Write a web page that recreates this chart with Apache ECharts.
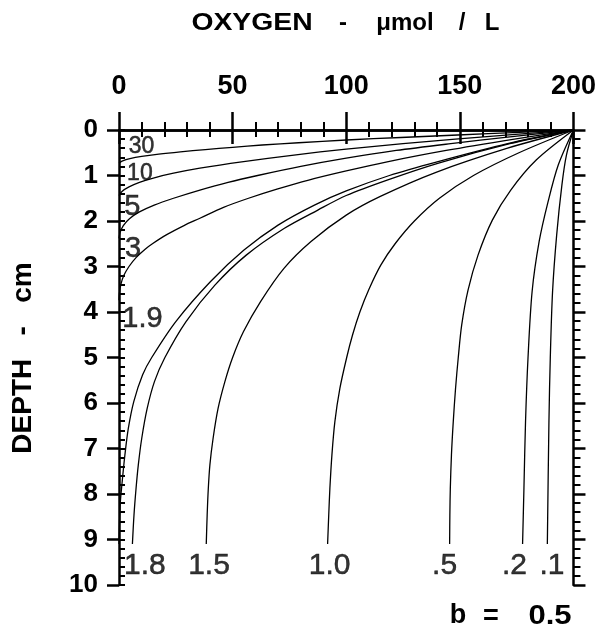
<!DOCTYPE html>
<html>
<head>
<meta charset="utf-8">
<script src="https://cdn.jsdelivr.net/npm/echarts@6/dist/echarts.min.js"></script>
<style>
  html, body { margin: 0; padding: 0; background: #fff; }
  #chart { width: 599px; height: 633px; }
</style>
</head>
<body>
<div id="chart"></div>
<script>
// Oxygen profiles: each point is [oxygen µmol/L, depth cm]
const p30 = [[200,0],[176,0.05],[149,0.11],[124,0.165],[100,0.22],[79,0.28],[63,0.33],[50,0.38],[38,0.43],[27,0.48],[17.5,0.53],[10,0.58],[4.8,0.63],[1.6,0.68],[0,0.73]];
const p10 = [[200,0],[173,0.1],[148,0.2],[125,0.3],[100,0.42],[77,0.55],[54,0.7],[35.6,0.84],[24,0.95],[15.5,1.05],[9,1.15],[4.4,1.25],[1.3,1.35],[0,1.44]];
const p5  = [[200,0],[172,0.15],[146,0.3],[122,0.45],[100,0.62],[80,0.8],[61,1.0],[48,1.15],[35.6,1.32],[24,1.5],[15.5,1.65],[9,1.8],[4.6,1.95],[1.9,2.1],[0.5,2.25],[0,2.38]];
const p3  = [[200,0],[174,0.2],[144,0.45],[118,0.7],[100,0.9],[83.5,1.1],[69.5,1.3],[57,1.5],[46,1.7],[35.6,1.94],[28.6,2.1],[21,2.3],[14.7,2.5],[11.5,2.62],[7.6,2.8],[4.4,3.0],[2.1,3.2],[0.8,3.4],[0.15,3.6],[0,3.74]];
const p19 = [[200,0],[171,0.3],[140,0.7],[119,1.0],[100,1.34],[86,1.65],[70,2.09],[55,2.64],[40.3,3.33],[25,4.21],[14.4,5.0],[10.4,5.38],[6.5,5.97],[4.1,6.56],[2.6,7.14],[1.4,7.73],[0.5,8.24],[0,9.1]];
const p18 = [[200,0],[172,0.3],[141,0.72],[118,1.1],[100,1.44],[87.5,1.76],[72.8,2.16],[56,2.75],[42.2,3.41],[29.5,4.21],[20.2,5.0],[15.6,5.53],[12.4,6.12],[10,6.78],[8.5,7.36],[7.5,7.88],[6.6,8.46],[5.9,9.1]];
const p15 = [[200,0],[171,0.4],[139.5,0.93],[115,1.46],[100,1.87],[84.5,2.45],[72.6,3.04],[62.3,3.77],[54.8,4.43],[50,5.0],[46.6,5.53],[43.6,6.12],[41.4,6.78],[40,7.36],[39.3,7.88],[38.8,8.46],[38.4,9.1]];
const p1  = [[200,0],[176,0.5],[156,1.0],[141,1.5],[130,2.0],[121.5,2.5],[115.2,2.97],[110,3.5],[106,4.0],[102.8,4.5],[100.2,5.0],[97.2,5.68],[95,6.41],[93.7,7.14],[92.8,7.88],[92.3,8.46],[91.8,9.1]];
const p05 = [[200,0],[183.6,0.66],[172.4,1.32],[164.3,1.98],[158,2.75],[153.6,3.52],[150.8,4.29],[149.3,5.0],[148.1,5.68],[147.1,6.41],[146.3,7.14],[145.8,7.88],[145.6,8.46],[145.5,9.1]];
const p02 = [[200,0],[193.3,0.77],[188.8,1.58],[184.9,2.45],[181.8,3.55],[180,5.0],[178.9,6.41],[178.2,7.88],[177.6,9.1]];
const p01 = [[200,0],[196.9,0.55],[194.9,1.21],[192.6,2.31],[190.8,3.55],[189.8,5.0],[189.2,6.41],[188.5,9.1]];

const profiles = [p30, p10, p5, p3, p19, p18, p15, p1, p05, p02, p01];
const curveTags = ['30', '10', '5', '3', '1.9', '1.8', '1.5', '1.0', '.5', '.2', '.1'];
// where each curve tag sits, in [oxygen, depth]
const tagAnchors = [[9.9,0.37],[9.2,0.95],[5.9,1.69],[6.2,2.62],[10.3,4.15],[11.4,9.58],[39.6,9.58],[92.7,9.58],[143.3,9.58],[174,9.58],[190.5,9.58]];

const xTicks = [0, 50, 100, 150, 200];
const depthTicks = [0, 1, 2, 3, 4, 5, 6, 7, 8, 9, 10];

const FONT = '"Liberation Sans", Arial, Helvetica, sans-serif';
const BLACK = '#000';
const AXW = 2.5;

const chart = echarts.init(document.getElementById('chart'), null, { renderer: 'canvas' });

function tagSize(i) {
  if (i < 2) return 23;
  if (i < 5) return 29;
  return 30;
}

const lineSeries = profiles.map((pts, i) => ({
  name: curveTags[i],
  type: 'line',
  xAxisIndex: 0,
  yAxisIndex: 0,
  data: pts,
  showSymbol: false,
  smooth: 0.3,
  lineStyle: { color: BLACK, width: 1.3 },
  silent: true,
  z: 3
}));

const tagSeries = {
  type: 'scatter',
  xAxisIndex: 0,
  yAxisIndex: 0,
  symbolSize: 0,
  silent: true,
  z: 4,
  data: tagAnchors.map((a, i) => ({
    value: [a[0], a[1]],
    name: curveTags[i],
    label: { fontSize: tagSize(i) }
  })),
  label: {
    show: true,
    position: 'inside',
    formatter: p => p.name,
    color: BLACK,
    fontFamily: FONT,
    fontWeight: 'normal',
    textBorderColor: BLACK,
    textBorderWidth: 0.5
  }
};

const axisLineStyle = { color: BLACK, width: AXW };

function textEl(x, y, text, size, weight, scaleX, rotation) {
  return {
    type: 'text', x: x, y: y, scaleX: scaleX || 1, rotation: rotation || 0,
    style: { text: text, font: weight + ' ' + size + 'px ' + FONT, fill: BLACK, align: 'center', verticalAlign: 'middle' }
  };
}

chart.setOption({
  animation: false,
  backgroundColor: '#fff',
  grid: { left: 119, right: 25, top: 130, bottom: 48, containLabel: false },
  xAxis: [
    {
      type: 'value', position: 'top', min: xTicks[0], max: xTicks[xTicks.length - 1], interval: 50,
      axisLine: { show: true, lineStyle: axisLineStyle },
      axisTick: { show: true, length: 18, lineStyle: { color: BLACK, width: AXW } },
      minorTick: { show: true, splitNumber: 5, length: 8, lineStyle: { color: BLACK, width: 2 } },
      axisLabel: { show: true, margin: 30, fontSize: 27, fontWeight: 'bold', color: BLACK, fontFamily: FONT },
      splitLine: { show: false }
    },
    {
      type: 'value', position: 'bottom', min: 0, max: 200, interval: 50,
      axisLine: { show: true, lineStyle: axisLineStyle },
      axisTick: { show: true, length: 14, lineStyle: { color: BLACK, width: AXW } },
      minorTick: { show: true, splitNumber: 5, length: 7, lineStyle: { color: BLACK, width: 2 } },
      axisLabel: { show: false },
      splitLine: { show: false }
    }
  ],
  yAxis: [
    {
      type: 'value', position: 'left', inverse: true, min: depthTicks[0], max: depthTicks[depthTicks.length - 1], interval: 1,
      axisLine: { show: true, lineStyle: axisLineStyle },
      axisTick: { show: true, length: 12, lineStyle: { color: BLACK, width: AXW } },
      axisLabel: { show: true, margin: 21, fontSize: 26, fontWeight: 'bold', color: BLACK, fontFamily: FONT },
      splitLine: { show: false }
    },
    {
      type: 'value', position: 'left', inverse: true, min: 0, max: 10, interval: 0.2,
      axisLine: { show: false },
      axisTick: { show: true, inside: true, length: 6, lineStyle: { color: BLACK, width: 2 } },
      axisLabel: { show: false },
      splitLine: { show: false }
    },
    {
      type: 'value', position: 'right', inverse: true, min: 0, max: 10, interval: 1,
      axisLine: { show: true, lineStyle: axisLineStyle },
      axisTick: { show: true, length: 12, lineStyle: { color: BLACK, width: AXW } },
      minorTick: { show: true, splitNumber: 5, length: 7, lineStyle: { color: BLACK, width: 2 } },
      axisLabel: { show: false },
      splitLine: { show: false }
    }
  ],
  graphic: [
    textEl(252, 23, 'OXYGEN', 24, 'bold', 1.18),
    textEl(343, 23, '-', 24, 'bold'),
    textEl(405, 23, 'μmol', 24, 'bold'),
    textEl(462, 23, '/', 24, 'bold'),
    textEl(492, 23, 'L', 24, 'bold'),
    textEl(23, 358, 'DEPTH   -   cm', 28, 'bold', 1, Math.PI / 2),
    textEl(458, 616, 'b', 27, 'bold'),
    textEl(491, 617, '=', 27, 'bold'),
    textEl(550, 617, '0.5', 27, 'bold', 1.15)
  ],
  series: lineSeries.concat([tagSeries])
});
</script>
</body>
</html>
